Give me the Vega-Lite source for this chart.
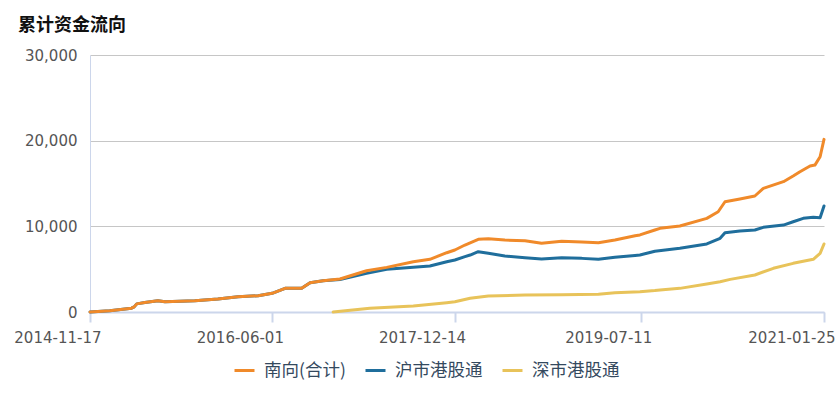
{
  "$schema": "https://vega.github.io/schema/vega-lite/v6.json",
  "width": 734,
  "height": 257,
  "autosize": {"type": "none"},
  "padding": {"left": 90, "top": 55, "right": 14, "bottom": 85},
  "background": "white",
  "title": {
    "text": "累计资金流向",
    "anchor": "start",
    "frame": "group",
    "dx": -72,
    "offset": 13,
    "font": "Noto Sans CJK SC",
    "fontSize": 18,
    "fontWeight": "bold",
    "color": "#111111"
  },
  "config": {
    "view": {"stroke": null},
    "font": "DejaVu Sans"
  },
  "data": {
    "values": [
      {"date": "2014-11-17", "series": "南向(合计)", "value": 0},
      {"date": "2015-01-17", "series": "南向(合计)", "value": 150},
      {"date": "2015-03-25", "series": "南向(合计)", "value": 450},
      {"date": "2015-04-02", "series": "南向(合计)", "value": 600},
      {"date": "2015-04-10", "series": "南向(合计)", "value": 950},
      {"date": "2015-05-05", "series": "南向(合计)", "value": 1100},
      {"date": "2015-06-14", "series": "南向(合计)", "value": 1320},
      {"date": "2015-07-06", "series": "南向(合计)", "value": 1200},
      {"date": "2015-10-06", "series": "南向(合计)", "value": 1320},
      {"date": "2015-12-16", "series": "南向(合计)", "value": 1520},
      {"date": "2016-02-16", "series": "南向(合计)", "value": 1790},
      {"date": "2016-04-18", "series": "南向(合计)", "value": 1900},
      {"date": "2016-05-31", "series": "南向(合计)", "value": 2180},
      {"date": "2016-07-10", "series": "南向(合计)", "value": 2760},
      {"date": "2016-08-30", "series": "南向(合计)", "value": 2760},
      {"date": "2016-09-25", "series": "南向(合计)", "value": 3420},
      {"date": "2016-11-04", "series": "南向(合计)", "value": 3650},
      {"date": "2016-12-26", "series": "南向(合计)", "value": 3850},
      {"date": "2017-03-18", "series": "南向(合计)", "value": 4820},
      {"date": "2017-05-19", "series": "南向(合计)", "value": 5210},
      {"date": "2017-08-09", "series": "南向(合计)", "value": 5870},
      {"date": "2017-09-29", "series": "南向(合计)", "value": 6150},
      {"date": "2017-11-20", "series": "南向(合计)", "value": 6920},
      {"date": "2017-12-15", "series": "南向(合计)", "value": 7240},
      {"date": "2018-01-15", "series": "南向(合计)", "value": 7820},
      {"date": "2018-02-25", "series": "南向(合计)", "value": 8480},
      {"date": "2018-03-28", "series": "南向(合计)", "value": 8560},
      {"date": "2018-05-18", "series": "南向(合计)", "value": 8400},
      {"date": "2018-07-19", "series": "南向(合计)", "value": 8320},
      {"date": "2018-09-08", "series": "南向(合计)", "value": 8020},
      {"date": "2018-11-09", "series": "南向(合计)", "value": 8250},
      {"date": "2019-01-10", "series": "南向(合计)", "value": 8170},
      {"date": "2019-03-02", "series": "南向(合计)", "value": 8090},
      {"date": "2019-04-22", "series": "南向(合计)", "value": 8400},
      {"date": "2019-06-23", "series": "南向(合计)", "value": 8900},
      {"date": "2019-07-08", "series": "南向(合计)", "value": 9000},
      {"date": "2019-08-23", "series": "南向(合计)", "value": 9570},
      {"date": "2019-09-08", "series": "南向(合计)", "value": 9770},
      {"date": "2019-11-08", "series": "南向(合计)", "value": 10040},
      {"date": "2020-01-30", "series": "南向(合计)", "value": 10930},
      {"date": "2020-03-05", "series": "南向(合计)", "value": 11700},
      {"date": "2020-03-26", "series": "南向(合计)", "value": 12870},
      {"date": "2020-05-11", "series": "南向(合计)", "value": 13190},
      {"date": "2020-06-26", "series": "南向(合计)", "value": 13540},
      {"date": "2020-07-22", "series": "南向(合计)", "value": 14430},
      {"date": "2020-09-22", "series": "南向(合计)", "value": 15210},
      {"date": "2020-10-22", "series": "南向(合计)", "value": 15870},
      {"date": "2020-11-12", "series": "南向(合计)", "value": 16370},
      {"date": "2020-12-13", "series": "南向(合计)", "value": 17040},
      {"date": "2020-12-28", "series": "南向(合计)", "value": 17150},
      {"date": "2021-01-13", "series": "南向(合计)", "value": 18120},
      {"date": "2021-01-25", "series": "南向(合计)", "value": 20150},

      {"date": "2014-11-17", "series": "沪市港股通", "value": 0},
      {"date": "2015-01-17", "series": "沪市港股通", "value": 150},
      {"date": "2015-03-25", "series": "沪市港股通", "value": 450},
      {"date": "2015-04-02", "series": "沪市港股通", "value": 600},
      {"date": "2015-04-10", "series": "沪市港股通", "value": 950},
      {"date": "2015-05-05", "series": "沪市港股通", "value": 1100},
      {"date": "2015-06-14", "series": "沪市港股通", "value": 1320},
      {"date": "2015-07-06", "series": "沪市港股通", "value": 1200},
      {"date": "2015-10-06", "series": "沪市港股通", "value": 1320},
      {"date": "2015-12-16", "series": "沪市港股通", "value": 1520},
      {"date": "2016-02-16", "series": "沪市港股通", "value": 1790},
      {"date": "2016-04-18", "series": "沪市港股通", "value": 1900},
      {"date": "2016-05-31", "series": "沪市港股通", "value": 2180},
      {"date": "2016-07-10", "series": "沪市港股通", "value": 2760},
      {"date": "2016-08-30", "series": "沪市港股通", "value": 2760},
      {"date": "2016-09-25", "series": "沪市港股通", "value": 3420},
      {"date": "2016-11-04", "series": "沪市港股通", "value": 3650},
      {"date": "2016-12-26", "series": "沪市港股通", "value": 3800},
      {"date": "2017-03-18", "series": "沪市港股通", "value": 4510},
      {"date": "2017-05-19", "series": "沪市港股通", "value": 4980},
      {"date": "2017-08-09", "series": "沪市港股通", "value": 5210},
      {"date": "2017-09-29", "series": "沪市港股通", "value": 5370},
      {"date": "2017-11-20", "series": "沪市港股通", "value": 5870},
      {"date": "2017-12-15", "series": "沪市港股通", "value": 6070},
      {"date": "2018-01-15", "series": "沪市港股通", "value": 6460},
      {"date": "2018-01-31", "series": "沪市港股通", "value": 6650},
      {"date": "2018-02-25", "series": "沪市港股通", "value": 7040},
      {"date": "2018-03-28", "series": "沪市港股通", "value": 6850},
      {"date": "2018-05-18", "series": "沪市港股通", "value": 6540},
      {"date": "2018-07-19", "series": "沪市港股通", "value": 6340},
      {"date": "2018-09-08", "series": "沪市港股通", "value": 6190},
      {"date": "2018-11-09", "series": "沪市港股通", "value": 6340},
      {"date": "2019-01-10", "series": "沪市港股通", "value": 6260},
      {"date": "2019-03-02", "series": "沪市港股通", "value": 6150},
      {"date": "2019-04-22", "series": "沪市港股通", "value": 6380},
      {"date": "2019-06-23", "series": "沪市港股通", "value": 6600},
      {"date": "2019-07-08", "series": "沪市港股通", "value": 6650},
      {"date": "2019-08-23", "series": "沪市港股通", "value": 7100},
      {"date": "2019-11-08", "series": "沪市港股通", "value": 7430},
      {"date": "2020-01-30", "series": "沪市港股通", "value": 7940},
      {"date": "2020-03-11", "series": "沪市港股通", "value": 8600},
      {"date": "2020-03-26", "series": "沪市港股通", "value": 9260},
      {"date": "2020-05-11", "series": "沪市港股通", "value": 9450},
      {"date": "2020-06-26", "series": "沪市港股通", "value": 9570},
      {"date": "2020-07-22", "series": "沪市港股通", "value": 9880},
      {"date": "2020-09-22", "series": "沪市港股通", "value": 10150},
      {"date": "2020-10-22", "series": "沪市港股通", "value": 10540},
      {"date": "2020-11-22", "series": "沪市港股通", "value": 10930},
      {"date": "2020-12-23", "series": "沪市港股通", "value": 11050},
      {"date": "2021-01-13", "series": "沪市港股通", "value": 11000},
      {"date": "2021-01-25", "series": "沪市港股通", "value": 12370},

      {"date": "2016-12-05", "series": "深市港股通", "value": 0},
      {"date": "2017-03-28", "series": "深市港股通", "value": 430},
      {"date": "2017-08-09", "series": "深市港股通", "value": 700},
      {"date": "2017-11-20", "series": "深市港股通", "value": 1090},
      {"date": "2017-12-15", "series": "深市港股通", "value": 1200},
      {"date": "2018-01-31", "series": "深市港股通", "value": 1600},
      {"date": "2018-03-28", "series": "深市港股通", "value": 1870},
      {"date": "2018-07-19", "series": "深市港股通", "value": 1980},
      {"date": "2018-11-09", "series": "深市港股通", "value": 2020},
      {"date": "2019-03-02", "series": "深市港股通", "value": 2060},
      {"date": "2019-04-22", "series": "深市港股通", "value": 2250},
      {"date": "2019-07-08", "series": "深市港股通", "value": 2370},
      {"date": "2019-08-23", "series": "深市港股通", "value": 2500},
      {"date": "2019-09-08", "series": "深市港股通", "value": 2570},
      {"date": "2019-11-08", "series": "深市港股通", "value": 2760},
      {"date": "2020-01-30", "series": "深市港股通", "value": 3270},
      {"date": "2020-03-11", "series": "深市港股通", "value": 3540},
      {"date": "2020-04-11", "series": "深市港股通", "value": 3810},
      {"date": "2020-06-26", "series": "深市港股通", "value": 4320},
      {"date": "2020-08-22", "series": "深市港股通", "value": 5100},
      {"date": "2020-10-22", "series": "深市港股通", "value": 5680},
      {"date": "2020-12-23", "series": "深市港股通", "value": 6150},
      {"date": "2021-01-13", "series": "深市港股通", "value": 6850},
      {"date": "2021-01-25", "series": "深市港股通", "value": 7940}
    ]
  },
  "encoding": {
    "x": {
      "field": "date",
      "type": "temporal",
      "scale": {
        "type": "utc",
        "domain": [
          {"year": 2014, "month": 11, "date": 17, "utc": true},
          {"year": 2021, "month": 1, "date": 25, "utc": true}
        ]
      },
      "axis": {
        "title": null,
        "values": [
          {"year": 2014, "month": 11, "date": 17, "utc": true},
          {"year": 2016, "month": 6, "date": 1, "utc": true},
          {"year": 2017, "month": 12, "date": 14, "utc": true},
          {"year": 2019, "month": 7, "date": 11, "utc": true},
          {"year": 2021, "month": 1, "date": 25, "utc": true}
        ],
        "labelExpr": "utcyear(datum.value) + '-' + (utcmonth(datum.value) < 9 ? '0' : '') + (utcmonth(datum.value) + 1) + '-' + (utcdate(datum.value) < 10 ? '0' : '') + utcdate(datum.value)",
        "grid": false,
        "domainColor": "#ccd6eb",
        "domainWidth": 2,
        "tickColor": "#ccd6eb",
        "tickWidth": 2,
        "tickSize": 10,
        "labelAlign": "right",
        "labelOffset": 11,
        "labelPadding": 8,
        "labelFontSize": 15,
        "labelColor": "#555555",
        "labelFont": "DejaVu Sans",
        "labelOverlap": false,
        "labelFlush": false
      }
    },
    "y": {
      "field": "value",
      "type": "quantitative",
      "scale": {"domain": [0, 30000], "nice": false},
      "axis": {
        "title": null,
        "values": [0, 10000, 20000, 30000],
        "labelExpr": "datum.value == 0 ? '0' : (round(datum.value / 1000) + ',000')",
        "ticks": false,
        "labelPadding": 13,
        "labelFontSize": 15,
        "labelColor": "#555555",
        "labelFont": "DejaVu Sans",
        "gridColor": "#c6c6c6",
        "gridWidth": 1,
        "domainColor": "#ccd6eb",
        "domainWidth": 1
      }
    },
    "color": {
      "field": "series",
      "type": "nominal",
      "scale": {
        "domain": ["南向(合计)", "沪市港股通", "深市港股通"],
        "range": ["#f08a2a", "#1f6e9c", "#e8c35a"]
      },
      "legend": {
        "title": null,
        "orient": "none",
        "legendX": 143,
        "legendY": 304,
        "direction": "horizontal",
        "symbolType": "stroke",
        "symbolSize": 400,
        "symbolStrokeWidth": 3,
        "labelFont": "Noto Sans CJK SC",
        "labelFontSize": 17.5,
        "labelColor": "#34495e",
        "labelOffset": 8,
        "columnPadding": 13
      }
    }
  },
  "layer": [
    {
      "transform": [{"filter": "datum.series != '南向(合计)'"}],
      "mark": {"type": "line", "strokeWidth": 3, "strokeJoin": "round", "strokeCap": "round"}
    },
    {
      "transform": [{"filter": "datum.series == '南向(合计)'"}],
      "mark": {"type": "line", "strokeWidth": 3, "strokeJoin": "round", "strokeCap": "round"}
    }
  ]
}
